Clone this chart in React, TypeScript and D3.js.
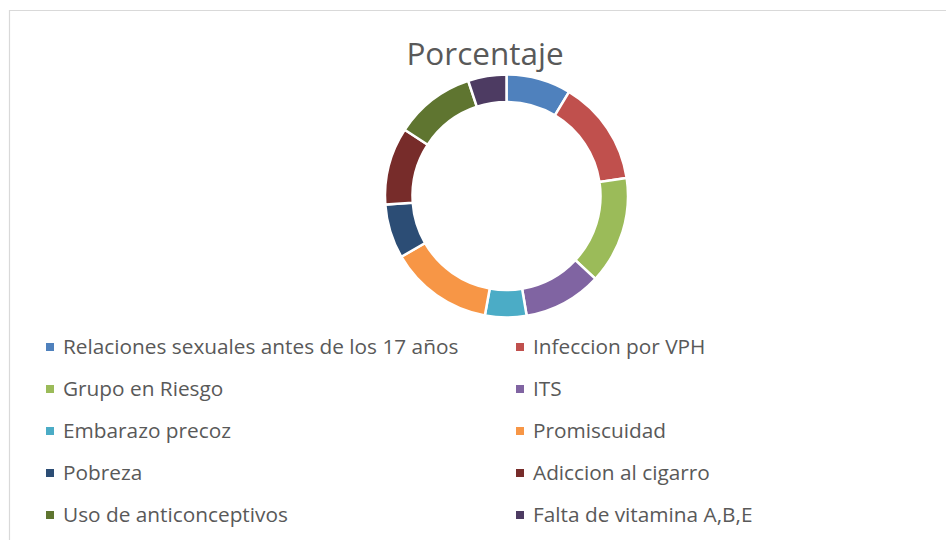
import React from "react";
import * as d3 from "d3";

const categories = [
  "Relaciones sexuales antes de los 17 años",
  "Infeccion por VPH",
  "Grupo en Riesgo",
  "ITS",
  "Embarazo precoz",
  "Promiscuidad",
  "Pobreza",
  "Adiccion al cigarro",
  "Uso de anticonceptivos",
  "Falta de vitamina A,B,E",
];
const values = [8.6, 14.0, 14.3, 10.4, 5.5, 13.8, 7.2, 10.3, 10.7, 5.1];
const colors = [
  "#4F81BD", "#C0504D", "#9BBB59", "#8064A2", "#4BACC6",
  "#F79646", "#2C4D75", "#772C2A", "#5F7530", "#4D3B62",
];
const title = "Porcentaje";

export default function App() {
  const W = 946, H = 540;
  const cx = 506.5, cy = 196;
  const outerR = 121.5, innerR = 94;
  const pie = d3.pie<number>().sort(null).value((d) => d);
  const arcs = pie(values);
  const arcGen = d3.arc<d3.PieArcDatum<number>>().innerRadius(innerR).outerRadius(outerR);
  const font = "'Open Sans', sans-serif";
  const rowY = d3.scaleLinear().domain([0, 4]).range([347, 515]);
  const colX = [46, 516];
  return (
    <svg width={W} height={H} style={{ position: "absolute", left: 0, top: 0 }}>
      <rect x={0} y={0} width={W} height={H} fill="#fff" />
      <path d={`M9.5,${H} V10.5 H${W}`} fill="none" stroke="#d9d9d9" strokeWidth={1.2} />
      <text x={485} y={65} textAnchor="middle" fontFamily={font} fontSize={31.5} fill="#595959">{title}</text>
      <g transform={`translate(${cx},${cy})`}>
        {arcs.map((a, i) => (
          <path key={i} d={arcGen(a) || ""} fill={colors[i]} stroke="#fff" strokeWidth={2.5} />
        ))}
      </g>
      {categories.map((c, i) => {
        const col = i % 2;
        const row = Math.floor(i / 2);
        const y = rowY(row);
        return (
          <g key={c}>
            <rect x={colX[col]} y={y - 4} width={8} height={8} fill={colors[i]} />
            <text x={colX[col] + 17} y={y} dy="0.35em" fontFamily={font} fontSize={20.8} fill="#595959">{c}</text>
          </g>
        );
      })}
    </svg>
  );
}
